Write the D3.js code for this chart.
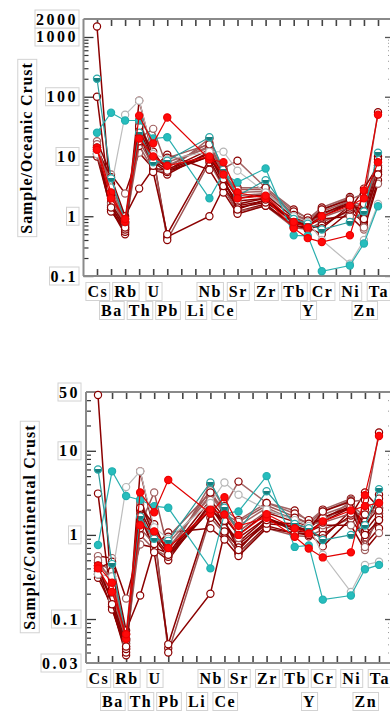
<!DOCTYPE html>
<html><head><meta charset="utf-8">
<script src="https://cdn.jsdelivr.net/npm/d3@7"></script>
<style>body{margin:0;background:#fff}svg{display:block}</style>
</head><body><svg id="c" width="390" height="711"></svg>
<script>
// ---------- DATA ----------
const categories = ["Cs","Ba","Rb","Th","U","Pb","c7","Li","Nb","Ce","Sr","c12","Zr","c14","Tb","Y","Cr","c18","Ni","Zn","Ta"];
const tickLabels = ["Cs","Ba","Rb","Th","U","Pb","","Li","Nb","Ce","Sr","","Zr","","Tb","Y","Cr","","Ni","Zn","Ta"];
const elements = ["Cs","Ba","Rb","Th","U","Pb","Nb","Ce","Sr","Zr","Tb","Y","Cr","Ni","Zn","Ta"];
const seriesKind = ["open","teal","open","cyan","gray","red","red","open","open","open","open","open","open","open","open","open","open","open","open"];

const oceanicValues = [
  [1500, 1.5, 0.6, 30, 8, 5.5, 10, 4.0, 1.6, 2.0, 0.8, 0.7, 1.0, 1.6, 1.0, 6],
  [200, 4.3, 0.8, 25, 8, 8.5, 21, 6, 2.2, 4.0, 0.9, 0.75, 0.6, 0.8, 1.2, 11.6],
  [100, 1.3, 0.5, 86, 10, 0.45, 1.0, 3.0, 1.2, 1.6, 0.7, 0.65, 0.5, 1.2, 0.8, 5],
  [25, 54, 40, 40, 20, 21, 2.0, 5.2, 3.7, 6.3, 0.48, 0.47, 0.12, 0.15, 0.35, 1.47],
  [11, 3, 50, 86, 11, 9, 12, 12, 5.8, 2.5, 1.0, 0.8, 0.4, 0.16, 0.4, 1.6],
  [14, 2.5, 0.8, 48, 16.6, 45, 9, 8, 2.5, 2.0, 0.63, 0.43, 0.37, 0.48, 2.7, 50],
  [13, 2.0, 0.9, 20, 10, 7, 10, 5, 2.0, 2.2, 0.8, 0.65, 1.0, 1.5, 2.0, 8],
  [12, 2.0, 0.7, 35, 9, 7, 15, 5, 2.5, 2.6, 1.0, 0.8, 1.2, 1.8, 1.5, 8],
  [10, 1.3, 0.55, 25, 6, 5, 12, 4, 1.5, 1.8, 0.9, 0.75, 1.1, 1.6, 0.7, 4],
  [15, 3.5, 0.9, 40, 10, 0.4, 8, 3, 1.2, 1.5, 0.65, 0.6, 0.8, 1.2, 1.8, 55],
  [18, 5, 2.4, 11.6, 6.3, 6, 11, 3.5, 1.8, 2.0, 0.75, 0.7, 0.9, 1.0, 0.6, 3.5],
  [11, 1.7, 0.65, 15, 6, 5.5, 20, 5.8, 3, 3.0, 1.3, 0.9, 1.4, 2.1, 1.0, 10],
  [13, 4.5, 1.0, 2.9, 6.3, 10.7, 6, 2.5, 1.1, 1.5, 0.7, 0.62, 0.7, 1.3, 2.9, 7],
  [16, 2.5, 0.75, 20, 29, 6.5, 17, 5, 2.8, 2.8, 1.1, 0.85, 1.3, 2.0, 0.65, 6],
  [12, 1.2, 0.6, 30, 5.5, 0.5, 9, 3.2, 1.4, 1.7, 0.85, 0.7, 0.63, 1.5, 1.3, 9],
  [14, 3.0, 0.8, 25, 7.5, 8, 14, 6.3, 8.5, 3.0, 1.2, 0.95, 1.0, 1.9, 2.4, 5.5],
  [13, 1.6, 0.7, 38, 8.5, 6, 13, 4.5, 2.0, 2.3, 0.95, 0.8, 1.1, 1.7, 1.2, 7],
  [11, 2.2, 0.75, 18, 7, 9.5, 16, 5.5, 2.2, 2.4, 1.05, 0.85, 0.95, 1.4, 1.6, 6.5],
  [14, 1.4, 0.65, 32, 12, 5.8, 10, 4.2, 1.3, 1.9, 0.8, 0.72, 1.3, 1.9, 0.9, 5]
];
const continentalValues = [
  [46, 0.16, 0.044, 2.0, 0.9, 0.55, 2.0, 1.4, 0.82, 1.6, 1.2, 1.1, 1.45, 2.1, 1.1, 1.8],
  [6.0, 0.45, 0.058, 1.65, 0.9, 0.85, 4.2, 2.1, 1.1, 3.3, 1.35, 1.2, 0.87, 1.0, 1.3, 3.5],
  [3.1, 0.14, 0.037, 5.7, 1.1, 0.045, 0.2, 1.05, 0.61, 1.28, 1.05, 1.04, 0.73, 1.56, 0.88, 1.5],
  [0.76, 5.7, 2.9, 2.6, 2.2, 2.1, 0.4, 1.8, 1.9, 5.0, 0.72, 0.75, 0.17, 0.19, 0.39, 0.44],
  [0.34, 0.32, 3.7, 5.7, 1.23, 0.9, 2.4, 4.2, 3.0, 2.0, 1.5, 1.28, 0.58, 0.21, 0.44, 0.48],
  [0.43, 0.27, 0.058, 3.2, 1.86, 4.5, 1.8, 2.8, 1.28, 1.6, 0.95, 0.69, 0.54, 0.62, 2.97, 15],
  [0.4, 0.21, 0.066, 1.3, 1.1, 0.7, 2.0, 1.75, 1.0, 1.76, 1.2, 1.04, 1.45, 1.95, 2.2, 2.4],
  [0.37, 0.21, 0.051, 2.3, 1.0, 0.7, 3.0, 1.75, 1.28, 2.1, 1.5, 1.28, 1.74, 2.3, 1.65, 2.4],
  [0.31, 0.14, 0.04, 1.65, 0.67, 0.5, 2.4, 1.4, 0.77, 1.44, 1.35, 1.2, 1.6, 2.1, 0.77, 1.2],
  [0.47, 0.37, 0.066, 2.6, 1.1, 0.04, 1.6, 1.05, 0.61, 1.2, 0.98, 0.96, 1.16, 1.56, 2.0, 16.5],
  [0.56, 0.53, 0.175, 0.77, 0.71, 0.6, 2.2, 1.2, 0.92, 1.6, 1.1, 1.1, 1.3, 1.3, 0.66, 1.05],
  [0.34, 0.18, 0.047, 1.0, 0.67, 0.55, 4.0, 2.0, 1.5, 2.4, 1.95, 1.44, 2.0, 2.7, 1.1, 3.0],
  [0.4, 0.48, 0.073, 0.19, 0.71, 1.07, 1.2, 0.88, 0.56, 1.2, 1.05, 1.0, 1.0, 1.7, 3.2, 2.1],
  [0.5, 0.27, 0.055, 1.3, 3.2, 0.65, 3.4, 1.75, 1.43, 2.24, 1.65, 1.36, 1.9, 2.6, 0.72, 1.8],
  [0.37, 0.13, 0.044, 2.0, 0.62, 0.05, 1.8, 1.1, 0.71, 1.36, 1.28, 1.12, 0.91, 1.95, 1.43, 2.7],
  [0.43, 0.32, 0.058, 1.65, 0.84, 0.8, 2.8, 2.2, 4.3, 2.4, 1.8, 1.5, 1.45, 2.5, 2.6, 1.65],
  [0.4, 0.17, 0.051, 2.5, 0.95, 0.6, 2.6, 1.6, 1.0, 1.84, 1.43, 1.28, 1.6, 2.2, 1.3, 2.1],
  [0.34, 0.23, 0.055, 1.2, 0.78, 0.95, 3.2, 1.9, 1.1, 1.9, 1.6, 1.36, 1.4, 1.8, 1.75, 1.95],
  [0.43, 0.15, 0.047, 2.1, 1.34, 0.58, 2.0, 1.47, 0.66, 1.5, 1.2, 1.15, 1.9, 2.5, 1.0, 1.5]
];
const oceanicTicks = [0.1, 1, 10, 100, 1000, 2000];
const oceanicTickLabels = ["0.1", "1", "10", "100", "1000", "2000"];
const continentalTicks = [0.03, 0.1, 1, 10, 50];
const continentalTickLabels = ["0.03", "0.1", "1", "10", "50"];

// ---------- STYLES ----------
const kindOrder = {open: 0, gray: 1, cyan: 2, teal: 3, red: 4};
const styles = {
  open: {fill: "#fff", stroke: "#8B0000"},
  gray: {fill: "#fff", stroke: "#B5B5B5", line: "#BDBDBD"},
  cyan: {fill: "#26BDBD", stroke: "#22AFAF", line: "#2AAFAF"},
  teal: {fill: "url(#tealGrad)", stroke: "#2AA8A8", line: "#2A9A9A"},
  red: {fill: "#FF0A0A", stroke: "#F00000", line: "#E00000"}
};
const openLineColors = ["#8B0000", "#9E5656", "#8B0000", "#A26464"];
const FONT = "'Liberation Serif','Times New Roman',serif";

const svg = d3.select("#c");
const defs = svg.append("defs");
const g = defs.append("linearGradient").attr("id", "tealGrad").attr("x1", 0).attr("y1", 0).attr("x2", 0).attr("y2", 1);
g.append("stop").attr("offset", "0.4").attr("stop-color", "#ffffff");
g.append("stop").attr("offset", "0.4").attr("stop-color", "#177F7F");
g.append("stop").attr("offset", "1").attr("stop-color", "#177F7F");

function boxed(sel, pad) {
  sel.each(function() {
    const b = this.getBBox();
    const p = d3.select(this.parentNode);
    p.insert("rect", () => this)
      .attr("x", b.x - pad).attr("y", b.y - 0.5)
      .attr("width", b.width + 2 * pad).attr("height", b.height + 1)
      .attr("fill", "#fff").attr("stroke", "#D2D2D2").attr("stroke-width", 1);
  });
}

function drawPanel(cfg, values, ticks, tickText) {
  const root = svg.append("g");
  const x = d3.scalePoint().domain(categories).range([cfg.x0, cfg.x1]);
  const y = d3.scaleLog().domain(cfg.domain).range([cfg.bottom, cfg.top]);

  const minors = [];
  for (let d = -3; d <= 4; d++) for (let k = 2; k <= 9; k++) {
    const v = k * Math.pow(10, d);
    if (v > cfg.domain[0] * 1.001 && v < cfg.domain[1] * 0.999) minors.push(v);
  }
  const majors = [0.1, 1, 10, 100, 1000].filter(v => v >= cfg.domain[0] && v <= cfg.domain[1]);

  root.append("g").attr("transform", `translate(${cfg.left},0)`)
    .call(d3.axisRight(y).tickValues(majors).tickSize(10).tickFormat(""))
    .call(a => a.select(".domain").remove())
    .call(a => a.selectAll("line").attr("stroke", "#333").attr("stroke-width", 1.3));
  root.append("g").attr("transform", `translate(${cfg.left},0)`)
    .call(d3.axisRight(y).tickValues(minors).tickSize(5).tickFormat(""))
    .call(a => a.select(".domain").remove())
    .call(a => a.selectAll("line").attr("stroke", "#333").attr("stroke-width", 1.2));
  root.append("g").attr("transform", `translate(${cfg.right},0)`)
    .call(d3.axisLeft(y).tickValues(majors).tickSize(6).tickFormat(""))
    .call(a => a.select(".domain").remove())
    .call(a => a.selectAll("line").attr("stroke", "#555").attr("stroke-width", 1.3));
  root.append("g").attr("transform", `translate(${cfg.right},0)`)
    .call(d3.axisLeft(y).tickValues(minors).tickSize(3).tickFormat(""))
    .call(a => a.select(".domain").remove())
    .call(a => a.selectAll("line").attr("stroke", "#999").attr("stroke-width", 1).attr("stroke-dasharray", "1,1"));
  root.append("g").attr("transform", `translate(0,${cfg.top})`)
    .call(d3.axisBottom(x).tickSize(7).tickFormat(""))
    .call(a => a.select(".domain").remove())
    .call(a => a.selectAll("line").attr("stroke", "#444").attr("stroke-width", 1.6));
  root.append("g").attr("transform", `translate(0,${cfg.bottom})`)
    .call(d3.axisTop(x).tickSize(7).tickFormat(""))
    .call(a => a.select(".domain").remove())
    .call(a => a.selectAll("line").attr("stroke", "#444").attr("stroke-width", 1.6));

  const fr = root.append("g").attr("stroke", "#8a8a8a").attr("stroke-width", 2);
  fr.append("line").attr("x1", cfg.left).attr("x2", cfg.right + 2).attr("y1", cfg.top).attr("y2", cfg.top);
  fr.append("line").attr("x1", cfg.left).attr("x2", cfg.right + 2).attr("y1", cfg.bottom).attr("y2", cfg.bottom);
  fr.append("line").attr("x1", cfg.left).attr("x2", cfg.left).attr("y1", cfg.top).attr("y2", cfg.bottom);

  const order = d3.range(values.length).sort((a, b) => kindOrder[seriesKind[a]] - kindOrder[seriesKind[b]] || a - b);
  const line = d3.line().x(d => x(d.el)).y(d => y(d.v));
  const sg = root.append("g");
  order.forEach(si => {
    const kind = seriesKind[si];
    const st = styles[kind];
    const pts = elements.map((el, i) => ({el, v: values[si][i]}));
    const lc = kind === "open" ? openLineColors[si % openLineColors.length] : st.line;
    const gg = sg.append("g");
    gg.append("path").attr("d", line(pts)).attr("fill", "none")
      .attr("stroke", lc).attr("stroke-width", kind === "open" ? 1.5 : 1.2);
    gg.selectAll("circle").data(pts).join("circle")
      .attr("cx", d => x(d.el)).attr("cy", d => y(d.v)).attr("r", 3.6)
      .attr("fill", st.fill)
      .attr("stroke", kind === "open" ? (si % 3 === 1 ? "#A06060" : "#8B0000") : st.stroke)
      .attr("stroke-width", 1.2);
  });

  const yl = root.append("g");
  ticks.forEach((t, i) => {
    const gg = yl.append("g");
    gg.append("text").attr("x", cfg.labelRight).attr("y", y(t) + 5.5)
      .attr("text-anchor", "end").attr("font-family", FONT).attr("font-weight", "bold")
      .attr("font-size", 16).attr("letter-spacing", "2.5px").text(tickText[i])
      .call(s => boxed(s, 1));
  });

  const cl = root.append("g");
  categories.forEach((c, i) => {
    if (!tickLabels[i]) return;
    const gg = cl.append("g");
    gg.append("text").attr("x", x(c) + 0.8).attr("y", i % 2 === 0 ? cfg.row1 : cfg.row2)
      .attr("text-anchor", "middle").attr("font-family", FONT).attr("font-weight", "bold")
      .attr("font-size", 16).attr("letter-spacing", "1.5px").text(tickLabels[i])
      .call(s => boxed(s, 1.5));
  });

  const tg = root.append("g");
  tg.append("text").attr("transform", `translate(${cfg.titleX},${cfg.titleY}) rotate(-90)`)
    .attr("text-anchor", "middle").attr("font-family", FONT).attr("font-weight", "bold")
    .attr("font-size", 16).attr("letter-spacing", cfg.titleLS + "px").attr("dy", "0.33em").text(cfg.title)
    .call(s => {
      s.each(function() {
        const b = this.getBBox();
        tg.insert("rect", "text")
          .attr("transform", `translate(${cfg.titleX},${cfg.titleY}) rotate(-90)`)
          .attr("x", b.x - 3).attr("y", b.y - 0.5).attr("width", b.width + 6).attr("height", b.height + 1)
          .attr("fill", "#fff").attr("stroke", "#D2D2D2");
      });
    });
}

drawPanel({left: 83.5, right: 391, top: 19, bottom: 276, domain: [0.1, 2000], x0: 97, x1: 378,
  labelRight: 78, row1: 297, row2: 316, title: "Sample/Oceanic Crust", titleX: 27, titleY: 148, titleLS: 0.9},
  oceanicValues, oceanicTicks, oceanicTickLabels);
drawPanel({left: 86, right: 391, top: 392, bottom: 663, domain: [0.03, 50], x0: 98, x1: 379,
  labelRight: 80, row1: 684, row2: 707, title: "Sample/Continental Crust", titleX: 29.5, titleY: 527, titleLS: 1.1},
  continentalValues, continentalTicks, continentalTickLabels);
</script></body></html>
